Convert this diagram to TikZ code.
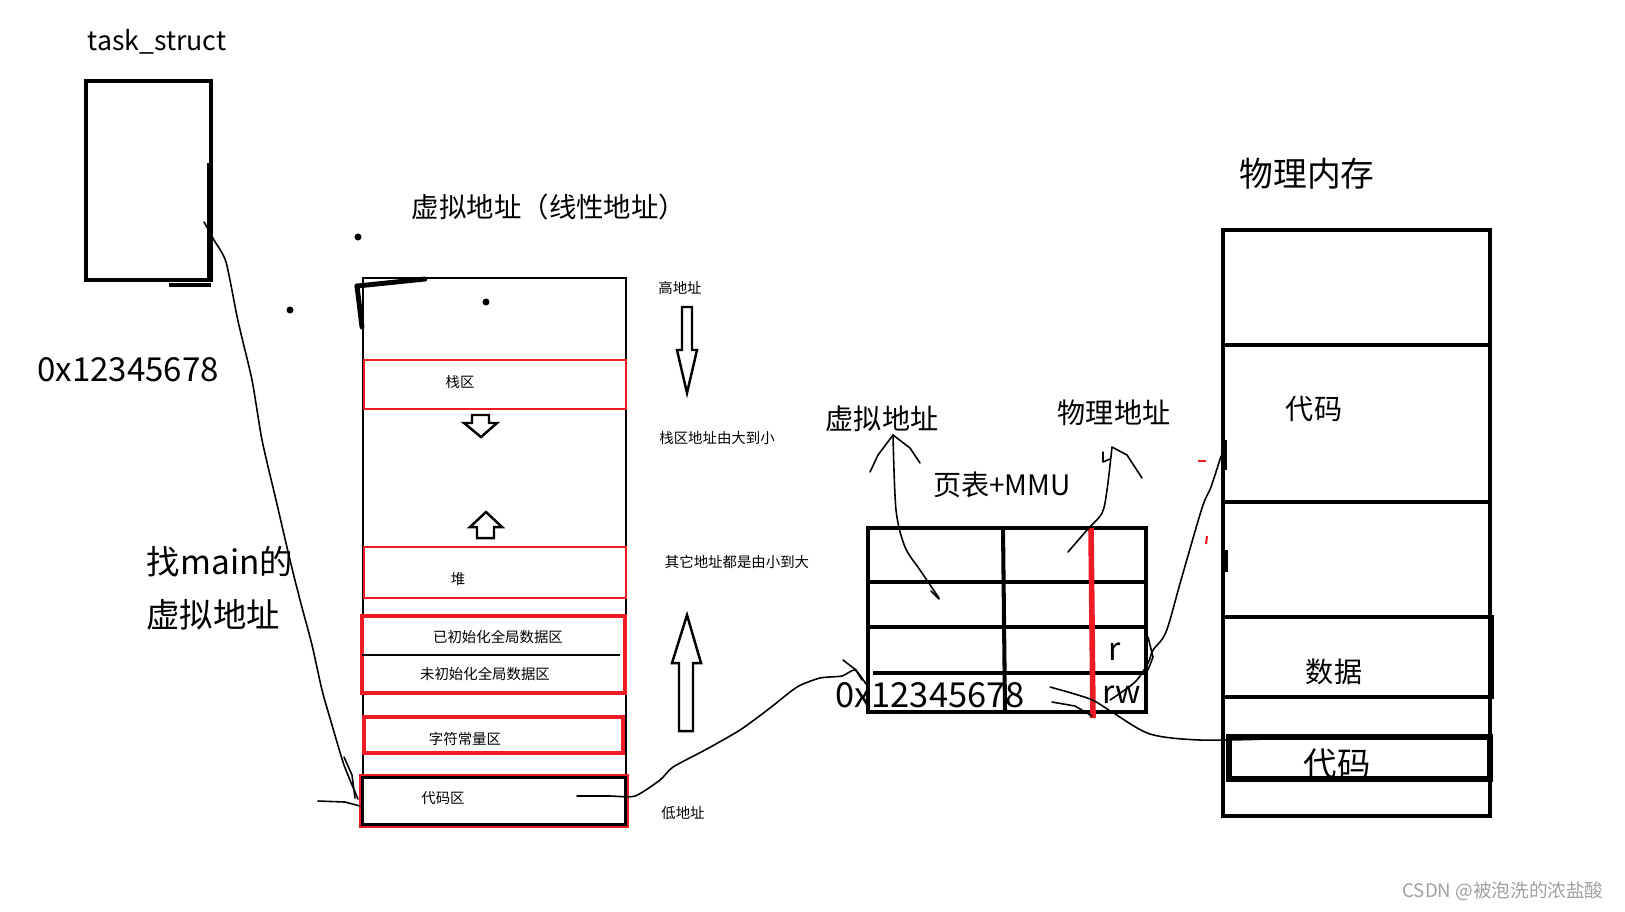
\documentclass[tikz,border=0pt]{standalone}
\usepackage{fontspec}
\setmainfont{Noto Sans CJK SC}
\usetikzlibrary{calc}
\definecolor{penred}{RGB}{237, 28, 36}
\definecolor{markgray}{RGB}{160, 160, 160}

\begin{document}
\begin{tikzpicture}[x=0.01cm, y=-0.01cm,
    wire/.style={line width=0.45pt, line join=round, line cap=round},
    pen/.style={line width=1.15pt},
    redseg/.style={draw=penred, line width=0.7pt},
    hollow/.style={draw, line width=0.7pt, fill=white, line join=miter},
    small/.style={font=\fontsize{4.1pt}{5pt}\selectfont, inner sep=0pt},
    mid/.style={font=\fontsize{8pt}{9pt}\selectfont, inner sep=0pt},
    big/.style={font=\fontsize{9.5pt}{11pt}\selectfont, inner sep=0pt},
    dot/.style={circle, fill=black, inner sep=0pt, minimum size=2pt}
  ]
    \useasboundingbox (0,0) rectangle (1625,911);

    % task_struct
    \node[mid, font=\fontsize{7.6pt}{9pt}\selectfont] (tsname) at (157,42) {task\_struct};
    \draw[pen] (86,81) rectangle (211,280);
    \draw[line width=1.8pt] (210,163) -- (210,278);
    \draw[line width=1.4pt] (169,285) -- (211,285);
    \node[big, font=\fontsize{9.4pt}{11pt}\selectfont] (addr) at (128,370) {0x12345678};
    \node[big] (findmain) at (220,562) {找main的};
    \node[big] (findva) at (213,615) {虚拟地址};
    \coordinate (ts-tail) at (204,222);

    % stray dots
    \node[dot] (dotA) at (358,237) {};
    \node[dot] (dotB) at (290,310) {};
    \node[dot] (dotC) at (486,302) {};

    % virtual address space
    \node[mid, font=\fontsize{7.8pt}{9pt}\selectfont] (vtitle) at (549,207) {虚拟地址（线性地址）};
    \draw[line width=0.75pt] (363,278) rectangle (626,827);
    \draw[line width=1.4pt, line cap=round] (357,286) -- (425,279);
    \draw[line width=1.4pt, line cap=round] (357,286) -- (362,327);
    % stack
    \draw[redseg] (364,360) rectangle (626,409);
    \node[small] (stack) at (460,382) {栈区};
    \draw[hollow] (472,415) -- (489,415) -- (489,423) -- (497,423) -- (481,437)
      -- (464,423) -- (472,423) -- cycle;
    \draw[hollow] (486,512) -- (502,527) -- (494,527) -- (494,538) -- (477,538)
      -- (477,527) -- (470,527) -- cycle;
    % heap
    \draw[redseg] (364,547) rectangle (626,598);
    \node[small] (heap) at (458,579) {堆};
    % data
    \draw[redseg, line width=1pt] (362,616) rectangle (625,693);
    \draw[line width=0.6pt] (362,655) -- (620,655);
    \node[small] (initdata) at (498,637) {已初始化全局数据区};
    \node[small] (bssdata) at (485,674) {未初始化全局数据区};
    % string constants
    \draw[redseg, line width=0.9pt] (364,717) rectangle (623,753);
    \node[small] (strconst) at (465,739) {字符常量区};
    % code
    \draw[line width=1.2pt] (362,777) rectangle (626,825);
    \draw[redseg] (360,775) rectangle (628,827);
    \node[small] (codearea) at (443,798) {代码区};
    \coordinate (code-in) at (358,799);
    \coordinate (code-out) at (577,796);

    % growth notes
    \node[small] (high) at (680,288) {高地址};
    \draw[hollow] (682,307) -- (692,307) -- (692,350) -- (697,350) -- (687,393)
      -- (677,350) -- (682,350) -- cycle;
    \node[small] (stacknote) at (717,438) {栈区地址由大到小};
    \node[small] (othernote) at (737,562) {其它地址都是由小到大};
    \draw[hollow] (687,615) -- (701,663) -- (693,663) -- (693,731) -- (679,731)
      -- (679,663) -- (672,663) -- cycle;
    \node[small] (low) at (683,813) {低地址};

    % page table + MMU
    \node[mid] (pva) at (882,419) {虚拟地址};
    \node[mid] (ppa) at (1114,413) {物理地址};
    \node[mid] (mmu) at (1002,485) {页表+MMU};
    \draw[pen] (868,528) rectangle (1146,712);
    \draw[pen] (1003,528) -- (1005,712);
    \draw[pen] (868,582) -- (1148,582);
    \draw[pen] (868,627) -- (1146,627);
    \draw[pen] (873,673) -- (1146,673);
    \draw[draw=penred, line width=1.6pt] (1091,528) -- (1093,718);
    \node[big, font=\fontsize{9.8pt}{11pt}\selectfont] (paddr) at (930,695) {0x12345678};
    \node[big, font=\fontsize{9pt}{10pt}\selectfont] (perm-r) at (1115,652) {r};
    \node[big, font=\fontsize{9pt}{10pt}\selectfont] (perm-rw) at (1122,695) {rw};
    \coordinate (va-cell) at (939,598);
    \coordinate (va-tip) at (893,435);
    \coordinate (pa-cell) at (1068,552);
    \coordinate (pa-tip) at (1112,447);
    \coordinate (pt-in) at (866,684);
    \coordinate (rw-out) at (1050,687);
    \coordinate (r-out) at (1110,700);

    % physical memory
    \node[big, font=\fontsize{9.6pt}{11pt}\selectfont] (phys) at (1307,174) {物理内存};
    \draw[pen] (1223,230) rectangle (1490,816);
    \draw[pen] (1223,345) -- (1490,345);
    \draw[pen] (1223,502) -- (1490,502);
    \draw[pen] (1223,617) rectangle (1492,697);
    \draw[line width=1.7pt] (1229,737) rectangle (1490,779);
    \node[mid] (pcode) at (1314,409) {代码};
    \node[mid] (pdata) at (1334,672) {数据};
    \node[big] (pcode2) at (1337,764) {代码};
    \coordinate (pcode-in) at (1221,456);
    \coordinate (pcode2-in) at (1266,739);
    \draw[line width=1.6pt] (1224,440) -- (1224,470);
    \draw[line width=1.4pt] (1226,550) -- (1226,572);
    \draw[draw=penred, line width=0.6pt] (1198,461) -- (1206,461);
    \draw[draw=penred, line width=0.6pt] (1207,536) -- (1206,544);

    % hand-drawn links
    \draw[wire] plot[smooth, tension=0.4] coordinates {(ts-tail) (214,240) (226,262)
      (238,321) (252,380) (262,440) (276,500) (290,560) (300,600) (312,645)
      (322,690) (332,725) (344,765) (code-in)};
    \draw[wire] (344,757) -- (352,775) -- (355,798);
    \draw[wire] (318,801) -- (345,802) -- (360,806);
    \draw[wire] plot[smooth, tension=0.4] coordinates {(code-out) (610,796) (635,796)
      (660,780) (673,767) (705,750) (740,730) (770,708) (797,687) (820,678)
      (842,676) (855,670) (pt-in)};
    \draw[wire] (843,660) -- (856,670) -- (862,680);
    \draw[wire] plot[smooth, tension=0.5] coordinates {(va-cell) (920,570) (905,547)
      (896,510) (va-tip)};
    \draw[wire] (va-tip) -- (878,455) -- (870,472);
    \draw[wire] (va-tip) -- (910,448) -- (920,463);
    \draw[wire] (931,591) -- (939,599);
    \draw[wire] plot[smooth, tension=0.5] coordinates {(pa-cell) (1087,530) (1102,513)
      (1107,490) (pa-tip)};
    \draw[wire] (pa-tip) -- (1127,455) -- (1142,478);
    \draw[wire] (1103,452) -- (1103,462) -- (1110,459);
    \draw[wire] plot[smooth, tension=0.5] coordinates {(rw-out) (1090,699)
      (1112,712) (1150,734) (1200,740) (pcode2-in)};
    \draw[wire] (1052,702) -- (1075,706) -- (1092,716);
    \draw[wire] plot[smooth, tension=0.5] coordinates {(r-out) (1135,682) (1148,663)
      (1153,650) (1166,632) (1181,580) (1202,508) (1211,487) (pcode-in)};
    \draw[wire] (1148,637) -- (1153,657) -- (1148,670);

    % watermark
    \node[font=\fontsize{5.3pt}{6pt}\selectfont, text=markgray, inner sep=0pt]
      (mark) at (1503,891) {CSDN @被泡洗的浓盐酸};
  \end{tikzpicture}
\end{document}
